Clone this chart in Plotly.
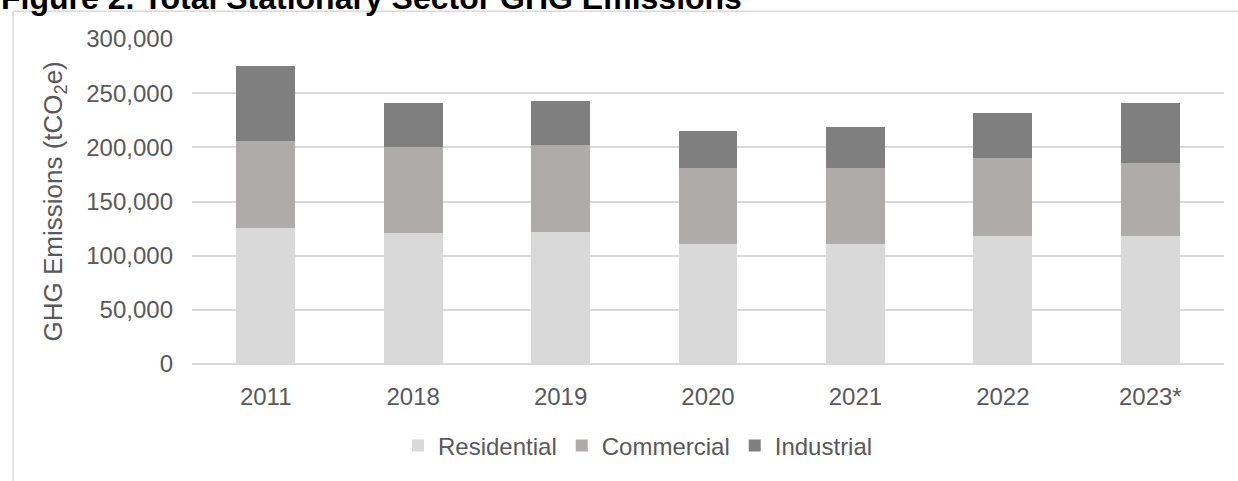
import plotly.graph_objects as go

years = ["2011", "2018", "2019", "2020", "2021", "2022", "2023*"]
residential = [126000, 120500, 122000, 111200, 111200, 118500, 118500]
commercial = [80000, 80000, 80500, 69300, 69300, 71200, 67500]
industrial = [69300, 40200, 40000, 34700, 38300, 41900, 54700]

y_ticks = [0, 50000, 100000, 150000, 200000, 250000, 300000]
y_tick_text = ["0", "50,000", "100,000", "150,000", "200,000", "250,000", "300,000"]

FONT = "Liberation Sans, Arial, sans-serif"
TXT = "#595959"
GRID = "#D9D9D9"

fig = go.Figure()
fig.add_trace(go.Bar(name="Residential", x=years, y=residential, marker_color="#D9D9D9", marker_line_width=0))
fig.add_trace(go.Bar(name="Commercial", x=years, y=commercial, marker_color="#AFABAB", marker_line_width=0))
fig.add_trace(go.Bar(name="Industrial", x=years, y=industrial, marker_color="#7F7F7F", marker_line_width=0))

L, R, T, B = 192, 14, 39, 113
W, H = 1238, 481
pw = W - L - R
ph = H - T - B

def px_x(p):
    return (p - L) / pw

def px_y(p):
    return (H - B - p) / ph

fig.update_layout(
    width=W, height=H,
    margin=dict(l=L, r=R, t=T, b=B, pad=0),
    barmode="stack",
    bargap=0.6,
    plot_bgcolor="white",
    paper_bgcolor="white",
    font=dict(family=FONT, size=24, color=TXT),
    showlegend=True,
    legend=dict(orientation="h", x=px_x(398), xanchor="left", y=px_y(451), yanchor="middle",
                font=dict(size=24, color=TXT), traceorder="normal", bgcolor="rgba(0,0,0,0)"),
    xaxis=dict(showgrid=False, showline=False, zeroline=False, ticks="", ticklabelstandoff=16,
               tickfont=dict(size=24, color=TXT)),
    yaxis=dict(range=[0, 300000], tickvals=y_ticks, ticktext=y_tick_text, showgrid=True,
               gridcolor=GRID, gridwidth=1.6, zeroline=True, zerolinecolor=GRID, zerolinewidth=1.6,
               showline=False, ticks="", ticklabelstandoff=18, tickfont=dict(size=24, color=TXT)),
)

# y-axis title
fig.add_annotation(text="GHG Emissions (tCO<sub>2</sub>e)", xref="paper", yref="paper",
                   x=px_x(54), y=0.5, textangle=-90, showarrow=False,
                   font=dict(size=26, color=TXT, family=FONT), xanchor="center", yanchor="middle")

# figure caption (cut at top)
fig.add_annotation(text="<b>Figure 2. Total Stationary Sector GHG Emissions</b>", xref="paper", yref="paper",
                   x=px_x(-1), y=px_y(-2), showarrow=False, xanchor="left", yanchor="middle",
                   font=dict(size=32, color="black", family=FONT))

# outer frame (left and top edges)
fig.add_shape(type="line", xref="paper", yref="paper", x0=px_x(13), x1=px_x(13), y0=px_y(11), y1=px_y(500),
              line=dict(color=GRID, width=1.5))
fig.add_shape(type="line", xref="paper", yref="paper", x0=px_x(13), x1=px_x(1250), y0=px_y(11), y1=px_y(11),
              line=dict(color=GRID, width=1.5))

fig.write_html("out.html")
